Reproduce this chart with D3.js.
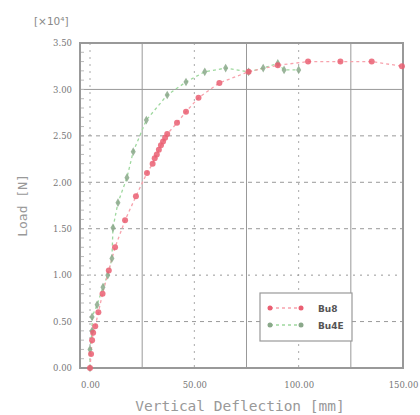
<!DOCTYPE html>
<html>
<head>
<meta charset="utf-8">
<script src="https://cdn.jsdelivr.net/npm/d3@7"></script>
<style>
  body { margin: 0; background: #fff; }
  text { font-family: "DejaVu Sans", sans-serif; }
</style>
</head>
<body>
<div id="chart"></div>
<script>
// Data (deflection in mm, load in x10^4 N)
var seriesNames = ['Bu8', 'Bu4E'];
var bu8Defl = [0, 0.5, 1, 1.5, 2.5, 4, 6, 9, 12, 16.8, 22, 27.3, 30, 31, 32, 33, 34, 35, 36, 37, 41.7, 46, 52, 62, 76, 90, 104.5, 120, 135, 149.5];
var bu8Load = [0, 0.15, 0.3, 0.38, 0.45, 0.6, 0.8, 1.05, 1.3, 1.59, 1.85, 2.10, 2.2, 2.26, 2.3, 2.35, 2.4, 2.44, 2.48, 2.52, 2.64, 2.76, 2.91, 3.07, 3.19, 3.26, 3.30, 3.30, 3.30, 3.25];
var bu4eDefl = [0, 0, 1, 1, 3.4, 6.2, 8.5, 10.5, 11, 13.4, 17.7, 20.7, 27, 37, 46, 55, 65, 76, 83, 90, 93, 100];
var bu4eLoad = [0, 0.2, 0.4, 0.55, 0.68, 0.87, 1.0, 1.18, 1.51, 1.78, 2.05, 2.33, 2.67, 2.94, 3.08, 3.19, 3.23, 3.19, 3.23, 3.28, 3.21, 3.21];
var xTicks = [0, 50, 100, 150];
var yTicks = [0, 0.5, 1, 1.5, 2, 2.5, 3, 3.5];

var margin = { top: 43, right: 17, bottom: 47, left: 80 };
var width = 420 - margin.left - margin.right;
var height = 415 - margin.top - margin.bottom;

var svg = d3.select('#chart')
    .append('svg')
    .attr('width', 420)
    .attr('height', 415);

var g = svg.append('g')
    .attr('transform', 'translate(' + margin.left + ',' + margin.top + ')');

var x = d3.scaleLinear().domain([-4.8, 150]).range([0, width]);
var y = d3.scaleLinear().domain([0, 3.5]).range([height, 0]);

// Grid lines
[25, 75, 125].forEach(function (v) {
    g.append('line')
        .attr('x1', x(v)).attr('x2', x(v))
        .attr('y1', 0).attr('y2', height)
        .style('stroke', '#999').style('stroke-width', 1);
});
[0, 50, 100].forEach(function (v) {
    g.append('line')
        .attr('x1', x(v)).attr('x2', x(v))
        .attr('y1', 0).attr('y2', height)
        .style('stroke', '#aaa').style('stroke-width', 1)
        .style('stroke-dasharray', '2,5');
});
[0.5, 1, 1.5, 2, 2.5].forEach(function (v) {
    g.append('line')
        .attr('x1', 0).attr('x2', width)
        .attr('y1', y(v)).attr('y2', y(v))
        .style('stroke', '#999').style('stroke-width', 1)
        .style('stroke-dasharray', v === 1 ? '2,5' : '4,4');
});
g.append('line')
    .attr('x1', 0).attr('x2', width)
    .attr('y1', y(3)).attr('y2', y(3))
    .style('stroke', '#999').style('stroke-width', 1);

// Minor ticks inside left axis
d3.range(0, 3.5, 0.1).forEach(function (v) {
    g.append('line')
        .attr('x1', 0).attr('x2', 4)
        .attr('y1', y(v)).attr('y2', y(v))
        .style('stroke', '#bbb').style('stroke-width', 1);
});

// Frame
g.append('rect')
    .attr('width', width).attr('height', height)
    .style('fill', 'none').style('stroke', '#999').style('stroke-width', 2);

// Axes
var xAxis = g.append('g')
    .attr('transform', 'translate(0,' + height + ')')
    .call(d3.axisBottom(x).tickValues(xTicks).tickFormat(d3.format('.2f')).tickSize(0).tickPadding(14));
var yAxis = g.append('g')
    .call(d3.axisLeft(y).tickValues(yTicks).tickFormat(d3.format('.2f')).tickSize(0).tickPadding(8));
xAxis.select('.domain').remove();
yAxis.select('.domain').remove();
g.selectAll('.tick text')
    .style('font-size', '8.5px')
    .style('fill', '#777')
    .style('font-family', '"DejaVu Serif", serif');

// Axis titles
svg.append('text')
    .attr('x', 240).attr('y', 411)
    .attr('text-anchor', 'middle')
    .style('font-size', '14.5px')
    .style('fill', '#999')
    .style('font-family', '"DejaVu Sans Mono", monospace')
    .text('Vertical Deflection [mm]');

svg.append('text')
    .attr('transform', 'translate(27,' + (margin.top + height / 2) + ') rotate(-90)')
    .attr('text-anchor', 'middle')
    .style('font-size', '13px')
    .style('fill', '#999')
    .style('font-family', '"DejaVu Sans Mono", monospace')
    .text('Load [N]');

svg.append('text')
    .attr('x', 34).attr('y', 25)
    .style('font-size', '10.5px')
    .style('fill', '#888')
    .text('[×10⁴]');

// Series
var bu8 = bu8Defl.map(function (d, i) { return { x: d, y: bu8Load[i] }; });
var bu4e = bu4eDefl.map(function (d, i) { return { x: d, y: bu4eLoad[i] }; });

var line = d3.line()
    .x(function (d) { return x(d.x); })
    .y(function (d) { return y(d.y); });

g.append('path').datum(bu4e)
    .attr('d', line)
    .style('fill', 'none')
    .style('stroke', '#9ed89e')
    .style('stroke-width', 1.3)
    .style('stroke-dasharray', '3,3');

g.append('path').datum(bu8)
    .attr('d', line)
    .style('fill', 'none')
    .style('stroke', '#f7a3ad')
    .style('stroke-width', 1.3)
    .style('stroke-dasharray', '3,3');

g.selectAll('.dot-g').data(bu4e).enter().append('path')
    .attr('class', 'dot-g')
    .attr('transform', function (d) { return 'translate(' + x(d.x) + ',' + y(d.y) + ')'; })
    .attr('d', d3.symbol().type(d3.symbolDiamond).size(22))
    .style('fill', '#8aa88a')
    .style('opacity', 0.85);

g.selectAll('.dot-r').data(bu8).enter().append('circle')
    .attr('class', 'dot-r')
    .attr('cx', function (d) { return x(d.x); })
    .attr('cy', function (d) { return y(d.y); })
    .attr('r', 3)
    .style('fill', '#ea5f72')
    .style('opacity', 0.85);

// Legend
var legend = svg.append('g').attr('transform', 'translate(260,293)');
legend.append('rect')
    .attr('width', 92).attr('height', 48)
    .style('fill', '#fff').style('stroke', '#999').style('stroke-width', 1.2);
var legColors = [['#f7a3ad', '#ea5f72'], ['#9ed89e', '#8aa88a']];
seriesNames.forEach(function (name, i) {
    var ly = 15 + i * 17;
    legend.append('line')
        .attr('x1', 10).attr('x2', 41).attr('y1', ly).attr('y2', ly)
        .style('stroke', legColors[i][0]).style('stroke-width', 1.3)
        .style('stroke-dasharray', '3,3');
    [10, 41].forEach(function (lx) {
        legend.append('circle')
            .attr('cx', lx).attr('cy', ly).attr('r', 2.5)
            .style('fill', legColors[i][1]);
    });
    legend.append('text')
        .attr('x', 58).attr('y', ly + 3.5)
        .style('font-size', '9px')
        .style('font-weight', 'bold')
        .style('fill', '#555')
        .text(name);
});
</script>
</body>
</html>
